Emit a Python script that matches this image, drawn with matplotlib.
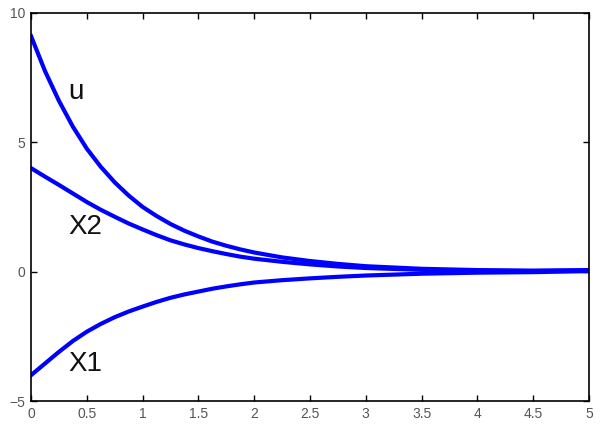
import matplotlib
matplotlib.use('Agg')
import matplotlib.pyplot as plt

plt.rcParams['font.family'] = ['Liberation Sans', 'DejaVu Sans']

# values
t = [0, 0.125, 0.25, 0.375, 0.5, 0.625, 0.75, 0.875, 1.0, 1.125, 1.25, 1.375,
     1.5, 1.625, 1.75, 1.875, 2.0, 2.25, 2.5, 2.75, 3.0, 3.5, 4.0, 4.5, 5.0]
u = [9.1, 7.75, 6.6, 5.6, 4.75, 4.05, 3.45, 2.94, 2.5, 2.15, 1.84, 1.58,
     1.36, 1.16, 1.0, 0.86, 0.74, 0.55, 0.41, 0.3, 0.21, 0.11, 0.06, 0.04, 0.06]
x2 = [4.0, 3.67, 3.35, 3.02, 2.69, 2.39, 2.12, 1.86, 1.63, 1.41, 1.21, 1.05,
      0.91, 0.79, 0.68, 0.58, 0.50, 0.38, 0.28, 0.2, 0.14, 0.07, 0.03, 0.02, 0.04]
x1 = [-4.0, -3.55, -3.1, -2.68, -2.32, -2.02, -1.76, -1.54, -1.35, -1.17, -1.01,
      -0.88, -0.77, -0.66, -0.57, -0.49, -0.42, -0.33, -0.26, -0.2, -0.15,
      -0.08, -0.04, -0.02, 0.02]

labels = ['u', 'X2', 'X1']
label_pos = [(0.33, 6.95), (0.33, 1.74), (0.33, -3.57)]

xticks = [0, 0.5, 1, 1.5, 2, 2.5, 3, 3.5, 4, 4.5, 5]
xticklabels = ['0', '0.5', '1', '1.5', '2', '2.5', '3', '3.5', '4', '4.5', '5']
yticks = [-5, 0, 5, 10]

fig = plt.figure(figsize=(6.09, 4.28), dpi=100)
ax = fig.add_axes([0.051, 0.063, 0.916, 0.907])

for series in (u, x2, x1):
    ax.plot(t, series, color='#0000ff', linewidth=3, solid_joinstyle='round')

for lab, (lx, ly) in zip(labels, label_pos):
    ax.text(lx, ly, lab, fontsize=20, ha='left', va='center', color='#111111')

ax.set_xlim(0, 5)
ax.set_ylim(-5, 10)
ax.set_xticks(xticks)
ax.set_xticklabels(xticklabels)
ax.set_yticks(yticks)
ax.tick_params(direction='in', top=True, right=True, length=4,
               labelsize=10, labelcolor='#555555', width=1, pad=4)
for s in ax.spines.values():
    s.set_linewidth(1.2)

fig.savefig('out.png', dpi=100)
